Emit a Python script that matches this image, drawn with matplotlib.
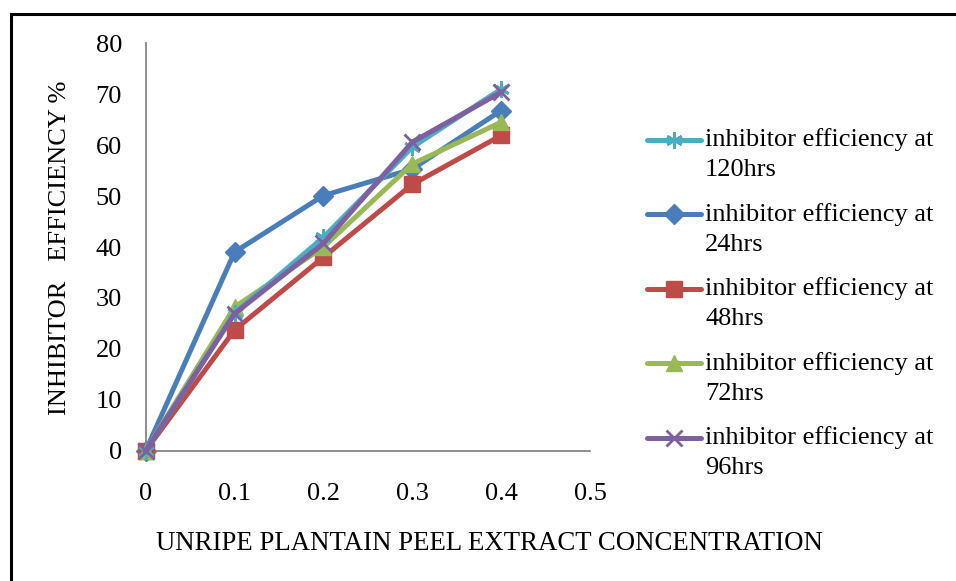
import matplotlib
matplotlib.use("Agg")
import matplotlib.pyplot as plt
from matplotlib.lines import Line2D

plt.rcParams['font.family'] = ['Liberation Serif', 'DejaVu Serif']

concentration = [0, 0.1, 0.2, 0.3, 0.4]
ie_120 = [0, 27.0, 41.9, 59.6, 71.0]
ie_24 = [0, 39.0, 50.1, 55.3, 66.8]
ie_48 = [0, 23.7, 38.0, 52.3, 61.9]
ie_72 = [0, 28.2, 40.0, 56.3, 64.5]
ie_96 = [0, 26.9, 40.7, 60.6, 70.4]

series = [
    ("inhibitor efficiency at", "120hrs", ie_120, "#4BACC6", (6, 2, 0), 5),
    ("inhibitor efficiency at", "24hrs", ie_24, "#4A7EBB", "D", 2),
    ("inhibitor efficiency at", "48hrs", ie_48, "#BE4B48", "s", 3),
    ("inhibitor efficiency at", "72hrs", ie_72, "#98B954", "^", 4),
    ("inhibitor efficiency at", "96hrs", ie_96, "#7D60A0", "x", 6),
]
x_ticks = [0, 0.1, 0.2, 0.3, 0.4, 0.5]
y_ticks = [0, 10, 20, 30, 40, 50, 60, 70, 80]

W, H = 956, 581
fig = plt.figure(figsize=(W / 100, H / 100), dpi=100)
ax = fig.add_axes([145.7 / W, 1 - 450.7 / H, (590 - 145.7) / W, (450.7 - 43.3) / H])

msize = {"D": 10, "s": 11, "^": 11, "x": 11, (6, 2, 0): 12}
for l1, l2, vals, col, mk, z in series:
    mew = 2 if mk in ("x", (6, 2, 0)) else 1
    ax.plot(concentration, vals, color=col, lw=3.6, marker=mk, ms=msize[mk],
            mew=mew, mec=col, mfc=col, zorder=z, clip_on=False)

ax.set_xlim(0, 0.5)
ax.set_ylim(0, 80)
ax.set_xticks(x_ticks)
ax.set_xticklabels(["0", "0.1", "0.2", "0.3", "0.4", "0.5"])
ax.set_yticks(y_ticks)
ax.tick_params(axis='both', length=0, labelsize=19)
ax.tick_params(axis='x', pad=23.5)
ax.tick_params(axis='y', pad=17)
for s in ["top", "right"]:
    ax.spines[s].set_visible(False)
for s in ["left", "bottom"]:
    ax.spines[s].set_color("#868686")
    ax.spines[s].set_linewidth(1.3)

fig.text(489 / W, 1 - 543 / H, "UNRIPE PLANTAIN PEEL EXTRACT CONCENTRATION",
         ha='center', va='center', fontsize=19.3)
fig.text(60 / W, 1 - 247.5 / H, "INHIBITOR   EFFICIENCY %", rotation=90,
         ha='center', va='center', fontsize=19)

# legend (manual, first-line aligned handles)
y0 = 139.5
dy = 74.6
for i, (l1, l2, vals, col, mk, z) in enumerate(series):
    yc = y0 + i * dy
    mew = 2 if mk in ("x", (6, 2, 0)) else 1
    fig.add_artist(Line2D([647 / W, 701 / W], [1 - yc / H, 1 - yc / H],
                          transform=fig.transFigure, color=col, lw=3.6,
                          solid_capstyle='round'))
    fig.add_artist(Line2D([674 / W], [1 - yc / H], transform=fig.transFigure,
                          marker=mk, ms=msize[mk], mfc=col, mec=col, mew=mew,
                          color=col, lw=0))
    fig.text(705 / W, 1 - yc / H, l1, ha='left', va='center', fontsize=19)
    fig.text(705 / W, 1 - (yc + 30.5) / H, l2, ha='left', va='center', fontsize=19)

# outer frame (top and left edges visible)
fig.add_artist(Line2D([11 / W, 11 / W], [-0.1, 1 - 14 / H], transform=fig.transFigure,
                      color="black", lw=2.2))
fig.add_artist(Line2D([11 / W, 1.1], [1 - 14 / H, 1 - 14 / H], transform=fig.transFigure,
                      color="black", lw=2.2))

fig.savefig("out.png", dpi=100)
